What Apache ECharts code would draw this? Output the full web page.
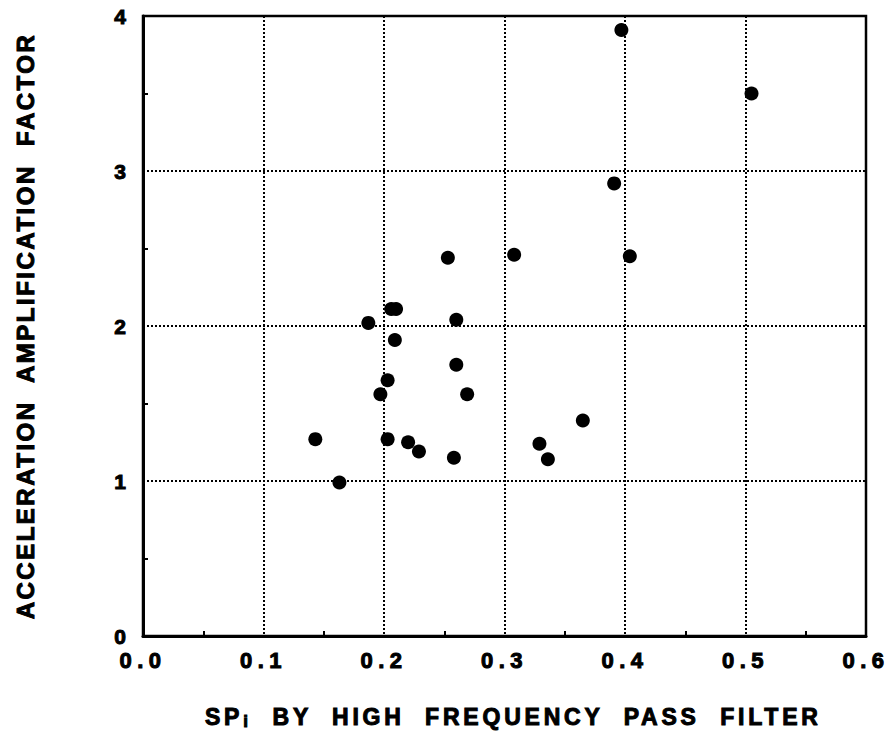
<!DOCTYPE html>
<html>
<head>
<meta charset="utf-8">
<script src="https://cdn.jsdelivr.net/npm/echarts@6/dist/echarts.min.js"></script>
<style>
  html, body { margin: 0; padding: 0; background: #fff; }
  #main { width: 892px; height: 743px; }
  /* letter spacing per text group (groups distinguished by font size) */
  #main svg text[style*="22px"] { letter-spacing: 5.5px; } /* x tick labels */
  #main svg text[style*="23px"] { letter-spacing: 3.8px; } /* x title */
  #main svg text[style*="17px"] { letter-spacing: 3.8px; } /* x title subscript */
  #main svg text[style*="24px"] { letter-spacing: 2.5px; } /* y title */
</style>
</head>
<body>
<div id="main"></div>
<script>
// ---- data ----
const spValues = [0.397, 0.505, 0.391, 0.253, 0.308, 0.404, 0.206, 0.210, 0.187, 0.260,
                  0.209, 0.260, 0.203, 0.197, 0.269, 0.143, 0.203, 0.220, 0.229, 0.258,
                  0.163, 0.365, 0.329, 0.336];
const ampValues = [3.91, 3.50, 2.92, 2.44, 2.46, 2.45, 2.11, 2.11, 2.02, 2.04,
                   1.91, 1.75, 1.65, 1.56, 1.56, 1.27, 1.27, 1.25, 1.19, 1.15,
                   0.99, 1.39, 1.24, 1.14];
const xTickLabels = ['0.0', '0.1', '0.2', '0.3', '0.4', '0.5', '0.6'];
const yTickLabels = ['0', '1', '2', '3', '4'];
const xTitleMain = 'SP';
const xTitleSub = 'i';
const xTitleRest = '  BY  HIGH  FREQUENCY  PASS  FILTER';
const yTitle = 'ACCELERATION  AMPLIFICATION  FACTOR';

const LS_T = 3.8; // x-title letter spacing (must match CSS)

const points = spValues.map((x, i) => [x, ampValues[i]]);

const chart = echarts.init(document.getElementById('main'), null, { renderer: 'svg' });

const FONT = '"Liberation Sans", Arial, Helvetica, sans-serif';
const gridLine = { show: true, lineStyle: { color: '#000', width: 2, type: [2, 2] } };
const heavy = { textBorderColor: '#000', textBorderWidth: 1 };

chart.setOption({
  animation: false,
  backgroundColor: '#fff',
  grid: {
    left: 143, right: 26, top: 16, bottom: 107,
    show: true, borderColor: '#000', borderWidth: 2.5,
    containLabel: false, outerBoundsMode: 'none'
  },
  xAxis: {
    type: 'value', min: 0, max: 0.6, interval: 0.1,
    axisLine: { show: true, onZero: false, lineStyle: { color: '#000', width: 3 } },
    axisTick: { show: false, inside: true },
    minorTick: { show: true, splitNumber: 2, length: 5, lineStyle: { color: '#000', width: 2 } },
    splitLine: gridLine,
    axisLabel: Object.assign({
      color: '#000', fontSize: 22, fontWeight: 'bold', fontFamily: FONT, margin: 13,
      formatter: (v) => xTickLabels[Math.round(v * 10)]
    }, heavy),
    name: '{m|' + xTitleMain + '}{s|' + xTitleSub + '}{r|' + xTitleRest + '}',
    nameLocation: 'middle', nameGap: 67,
    nameTextStyle: {
      rich: {
        m: Object.assign({ fontSize: 23, fontWeight: 'bold', fontFamily: FONT, color: '#000',
             padding: [0, LS_T * xTitleMain.length / 2, 0, LS_T * xTitleMain.length / 2 + 18] }, heavy),
        s: Object.assign({ fontSize: 17, fontWeight: 'bold', fontFamily: FONT, color: '#000',
             padding: [10, LS_T / 2, 0, LS_T / 2], verticalAlign: 'bottom' }, heavy),
        r: Object.assign({ fontSize: 23, fontWeight: 'bold', fontFamily: FONT, color: '#000',
             padding: [0, LS_T * xTitleRest.length / 2, 0, LS_T * xTitleRest.length / 2] }, heavy)
      }
    }
  },
  yAxis: {
    type: 'value', min: 0, max: 4, interval: 1,
    axisLine: { show: true, onZero: false, lineStyle: { color: '#000', width: 3 } },
    axisTick: { show: false, inside: true },
    minorTick: { show: true, splitNumber: 2, length: 5, lineStyle: { color: '#000', width: 2 } },
    splitLine: gridLine,
    axisLabel: Object.assign({
      color: '#000', fontSize: 21, fontWeight: 'bold', fontFamily: FONT, margin: 17,
      formatter: (v) => yTickLabels[Math.round(v)]
    }, heavy),
    name: yTitle,
    nameLocation: 'middle', nameGap: 106,
    nameTextStyle: Object.assign({ color: '#000', fontSize: 24, fontWeight: 'bold', fontFamily: FONT }, heavy)
  },
  series: [{
    type: 'scatter',
    data: points,
    symbol: 'circle',
    symbolSize: 14,
    itemStyle: { color: '#000', opacity: 1 }
  }]
});
</script>
</body>
</html>
